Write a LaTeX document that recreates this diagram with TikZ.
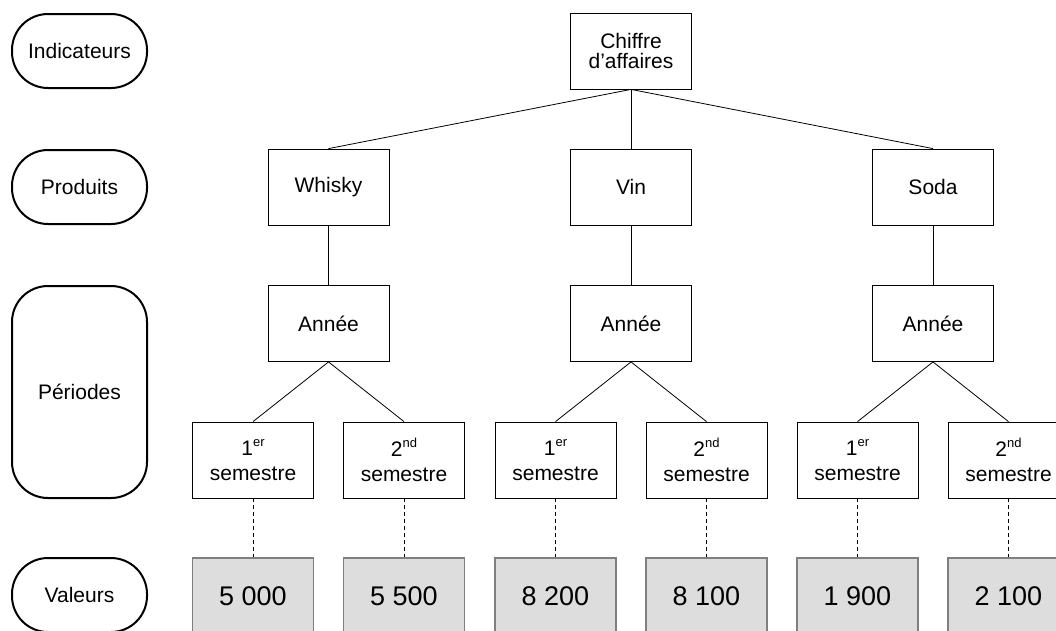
\documentclass[tikz,border=0pt]{standalone}
\usepackage{fontspec}
\setmainfont{Liberation Sans}
\definecolor{valfill}{HTML}{DDDDDD}
\definecolor{valline}{HTML}{7F7F7F}
% ordinal suffix, set small and raised
\newcommand{\ordsuf}[1]{\raisebox{9pt}{\fontsize{13}{13}\selectfont #1}}
\begin{document}
\begin{tikzpicture}[x=1pt,y=-1pt,
  base/.style={font=\fontsize{21}{22}\selectfont, align=center, inner sep=0pt},
  level/.style={base, draw=black, line width=2pt, rounded corners=36pt,
    minimum width=135pt, minimum height=74pt},
  box/.style={base, draw=black, line width=0.8pt, fill=white,
    minimum width=121pt, minimum height=76pt},
  val/.style={box, draw=valline, line width=1.2pt, fill=valfill,
    font=\fontsize{27}{30}\selectfont},
  link/.style={line width=0.8pt, black},
  dlink/.style={line width=0.8pt, black, dash pattern=on 4pt off 3pt}]
\useasboundingbox (0,0) rectangle (1056,630);
\clip (0,0) rectangle (1056,630);

% level labels on the left
\node[level] (indic) at (79.5,51) {Indicateurs};
\node[level] (prod) at (79.5,187) {Produits};
\node[level, minimum height=212pt] (per) at (79.5,392) {Périodes};
\node[level] (valx) at (79.5,595) {Valeurs};

% indicator
\node[box] (ca) at (631,51) {Chiffre\\[-2pt]d’affaires};

% products
\node[box] (pa) at (328.5,187) {Whisky};
\node[box] (pb) at (631,187) {Vin};
\node[box] (pc) at (933,187) {Soda};

% periods and values for each product
\foreach \g/\cx/\va/\vb in {a/328.5/5~000/5~500, b/631/8~200/8~100, c/933/1~900/2~100} {
  \node[box] (y\g) at (\cx,323.5) {Année};
  \node[box] (s\g1) at (\cx-75.5,460) {1\ordsuf{er}\\[3pt]semestre};
  \node[box] (s\g2) at (\cx+75.5,460) {2\ordsuf{nd}\\[3pt]semestre};
  \node[val] (v\g1) at (\cx-75.5,596) {\va};
  \node[val] (v\g2) at (\cx+75.5,596) {\vb};
  \draw[link] (p\g.south) -- (y\g.north);
  \draw[link] (y\g.south) -- (s\g1.north);
  \draw[link] (y\g.south) -- (s\g2.north);
  \draw[dlink] (s\g1.south) -- (v\g1.north);
  \draw[dlink] (s\g2.south) -- (v\g2.north);
}

\draw[link] (ca.south) -- (pa.north);
\draw[link] (ca.south) -- (pb.north);
\draw[link] (ca.south) -- (pc.north);
\end{tikzpicture}
\end{document}
